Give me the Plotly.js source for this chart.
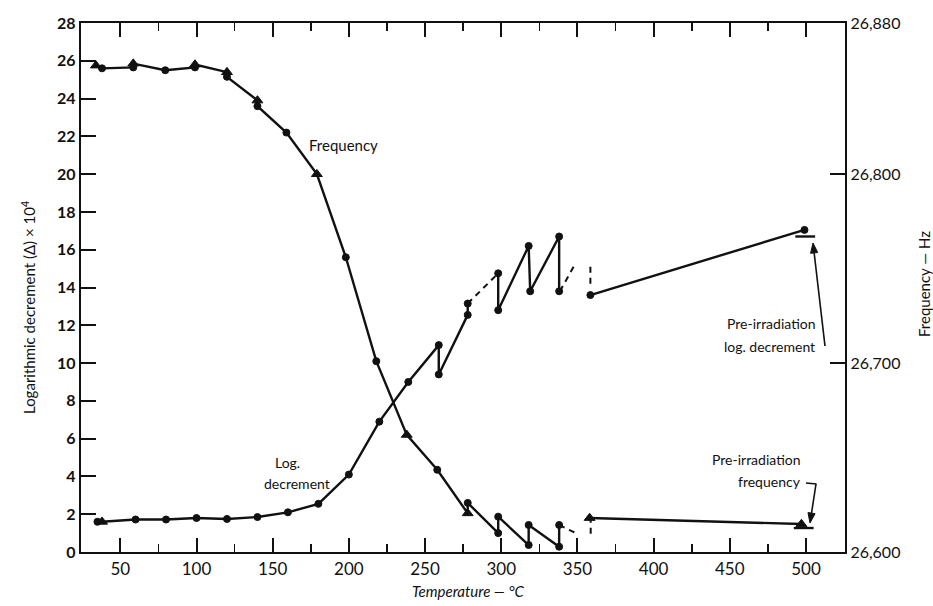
<!DOCTYPE html>
<html>
<head>
<meta charset="utf-8">
<script src="https://cdn.plot.ly/plotly-3.0.1.min.js"></script>
<style>
  html, body { margin: 0; padding: 0; background: #fff; }
  #chart { width: 933px; height: 606px; }
</style>
</head>
<body>
<div id="chart"></div>
<script>
// Temperature axis ticks (°C)
const tempTicks = [50, 100, 150, 200, 250, 300, 350, 400, 450, 500];
const tempMinor = [75, 125, 175, 225, 275, 325, 375, 425, 475];
const decTicks = [0, 2, 4, 6, 8, 10, 12, 14, 16, 18, 20, 22, 24, 26, 28];
const freqTickVals = [26600, 26700, 26800, 26880];
const freqTickText = ['26,600', '26,700', '26,800', '26,880'];

// Logarithmic decrement (x 10^4) during heating, with the anneal sawtooth above 250 °C
const decTemp = [35, 38, 60, 80, 100, 120, 140, 160, 180, 200, 220, 239, 259, 259, 278, 278];
const decVal  = [1.6, 1.6, 1.72, 1.72, 1.8, 1.75, 1.85, 2.1, 2.55, 4.1, 6.9, 9.0, 10.95, 9.4, 12.55, 13.15];
const decSym  = ['circle', 'triangle-up', 'circle', 'circle', 'circle', 'circle', 'circle', 'circle', 'circle', 'circle', 'circle', 'circle', 'circle', 'circle', 'circle', 'circle'];
const decTemp2 = [298, 298, 318, 319, 338, 338];
const decVal2  = [14.75, 12.8, 16.2, 13.8, 16.7, 13.8];
// dashed links
const decDashA_T = [278, 298];
const decDashA_V = [13.15, 14.75];
const decDashB_T = [338.5, 347.5];
const decDashB_V = [13.8, 15.1];
const decGapT = [358.5, 358.5];
const decGapV = [15.1, 14.0];
// after the break
const decPostT = [358.5, 499];
const decPostV = [13.6, 17.05];
// pre-irradiation log. decrement
const decPreT = [493, 506];
const decPreV = [16.7, 16.7];

// Resonant frequency (Hz)
const freqTemp = [34, 38, 58.5, 58.5, 79.5, 99, 99, 120, 120, 140, 140, 159, 179, 198, 218, 238, 258, 278, 278, 298, 298, 318, 318, 338, 338];
const freqHz   = [26857.5, 26856, 26856.5, 26858.5, 26855, 26856.5, 26858, 26854, 26851.5, 26839, 26836, 26822, 26800, 26756, 26701, 26662, 26643.5, 26620.5, 26626, 26610, 26618.7, 26603.7, 26614.3, 26602.8, 26614.3];
const freqSym  = ['triangle-up', 'circle', 'circle', 'triangle-up', 'circle', 'circle', 'triangle-up', 'triangle-up', 'circle', 'triangle-up', 'circle', 'circle', 'triangle-up', 'circle', 'circle', 'triangle-up', 'circle', 'triangle-up', 'circle', 'circle', 'circle', 'circle', 'circle', 'circle', 'circle'];
const freqDashT = [338, 349];
const freqDashHz = [26614.3, 26610];
const freqGapT = [358.7, 358.7];
const freqGapHz = [26618.7, 26608];
const freqPostT = [358, 497];
const freqPostHz = [26618, 26614.8];
// pre-irradiation frequency
const freqPreT = [492, 505];
const freqPreHz = [26612.7, 26612.7];

const ink = '#111';
const lw = 2.4;
const fontFam = 'Lato, "Noto Sans", "DejaVu Sans", sans-serif';

function solid(x, y, axis, sym) {
  const t = {
    x: x, y: y, yaxis: axis, type: 'scatter', mode: 'lines',
    line: { color: ink, width: lw },
    hoverinfo: 'skip', showlegend: false
  };
  if (sym) {
    const list = Array.isArray(sym) ? sym : x.map(() => sym);
    t.mode = 'lines+markers';
    t.marker = {
      symbol: list, size: list.map(s => s === 'circle' ? 7 : 9.5),
      color: ink, opacity: 1, line: { color: ink, width: 1 }
    };
  }
  return t;
}
function dashed(x, y, axis) {
  return {
    x: x, y: y, yaxis: axis, type: 'scatter', mode: 'lines',
    line: { color: ink, width: 2, dash: '6px,5px' },
    hoverinfo: 'skip', showlegend: false
  };
}

const traces = [
  solid(decTemp, decVal, 'y', decSym),
  solid(decTemp2, decVal2, 'y', 'circle'),
  dashed(decDashA_T, decDashA_V, 'y'),
  dashed(decDashB_T, decDashB_V, 'y'),
  dashed(decGapT, decGapV, 'y'),
  solid(decPostT, decPostV, 'y', 'circle'),
  solid(decPreT, decPreV, 'y'),
  solid(freqTemp, freqHz, 'y2', freqSym),
  dashed(freqDashT, freqDashHz, 'y2'),
  dashed(freqGapT, freqGapHz, 'y2'),
  solid(freqPostT, freqPostHz, 'y2', 'triangle-up'),
  solid(freqPreT, freqPreHz, 'y2')
];

// pixel helpers for label placement inside the 933x606 frame
const L = 81, R = 845, T = 23, B = 552;
const px = v => (v - L) / (R - L);
const py = v => (B - v) / (B - T);

const txt = (s, x, y, opts) => Object.assign({
  text: s, xref: 'paper', yref: 'paper', x: x, y: y, showarrow: false,
  font: { family: fontFam, size: 14, color: ink }
}, opts || {});

const annotations = [
  txt('Frequency', px(307), py(145), { xanchor: 'left', yanchor: 'middle', font: { family: fontFam, size: 15, color: ink } }),
  txt('Log.', px(287), py(462), { xanchor: 'center', yanchor: 'middle' }),
  txt('decrement', px(297), py(483), { xanchor: 'center', yanchor: 'middle' }),
  txt('Pre-irradiation', px(818), py(323), { xanchor: 'right', yanchor: 'middle' }),
  txt('log. decrement', px(817), py(346), { xanchor: 'right', yanchor: 'middle' }),
  txt('Pre-irradiation', px(803), py(459), { xanchor: 'right', yanchor: 'middle' }),
  txt('frequency', px(803), py(481), { xanchor: 'right', yanchor: 'middle' }),
  txt('Temperature — °C', px(468), py(591), { xanchor: 'center', yanchor: 'middle', font: { family: fontFam, size: 15, color: ink, style: 'italic' } }),
  txt('Logarithmic decrement (Δ) × 10<sup>4</sup>', px(28), py(308), { xanchor: 'center', yanchor: 'middle', textangle: -90, font: { family: fontFam, size: 15, color: ink } }),
  txt('Frequency — Hz', px(924), py(284), { xanchor: 'center', yanchor: 'middle', textangle: -90, font: { family: fontFam, size: 15, color: ink } })
];

// leader arrows drawn as shapes: shaft plus a filled head at the tip
function arrow(x0, y0, x1, y1) {
  const dx = x1 - x0, dy = y1 - y0, len = Math.hypot(dx, dy);
  const ux = dx / len, uy = dy / len, hl = 10, hw = 3.6;
  const bx = x1 - ux * hl, by = y1 - uy * hl;
  const p1 = [bx - uy * hw, by + ux * hw], p2 = [bx + uy * hw, by - ux * hw];
  return [
    { type: 'line', xref: 'paper', yref: 'paper', x0: px(x0), y0: py(y0), x1: px(bx), y1: py(by), line: { color: ink, width: 1.6 } },
    { type: 'path', xref: 'paper', yref: 'paper',
      path: `M ${px(x1)},${py(y1)} L ${px(p1[0])},${py(p1[1])} L ${px(p2[0])},${py(p2[1])} Z`,
      fillcolor: ink, line: { color: ink, width: 1 } }
  ];
}

const shapes = [
  ...arrow(825, 346, 813, 243),
  { type: 'line', xref: 'paper', yref: 'paper', x0: px(806), y0: py(483), x1: px(816.5), y1: py(484), line: { color: ink, width: 1.6 } },
  ...arrow(816, 484, 810, 523)
];

const layout = {
  width: 933, height: 606,
  margin: { l: L, r: 933 - R, t: T, b: 606 - B },
  paper_bgcolor: '#fff', plot_bgcolor: '#fff',
  font: { family: fontFam, color: ink },
  showlegend: false,
  xaxis: {
    range: [24.2, 525.6], tickvals: tempTicks, ticks: 'inside', ticklen: 14, tickwidth: 2, tickcolor: ink,
    minor: { tickvals: tempMinor, ticks: 'inside', ticklen: 8, tickwidth: 1.6, tickcolor: ink },
    showline: true, linewidth: 2.2, linecolor: ink, mirror: 'ticks',
    showgrid: false, zeroline: false, tickfont: { size: 17, color: ink }
  },
  yaxis: {
    range: [0, 28], tickvals: decTicks, ticks: 'inside', ticklen: 15, tickwidth: 2, tickcolor: ink,
    showline: true, linewidth: 2.2, linecolor: ink, showgrid: false, zeroline: false,
    tickfont: { size: 16, color: ink, weight: 'bold' }
  },
  yaxis2: {
    overlaying: 'y', side: 'right', range: [26600, 26880],
    tickvals: freqTickVals, ticktext: freqTickText, ticks: 'inside', ticklen: 15, tickwidth: 2, tickcolor: ink,
    showline: true, linewidth: 2.2, linecolor: ink, showgrid: false, zeroline: false,
    tickfont: { size: 16, color: ink }
  },
  annotations: annotations,
  shapes: shapes
};

Plotly.newPlot('chart', traces, layout, { displayModeBar: false, staticPlot: true });
</script>
</body>
</html>
